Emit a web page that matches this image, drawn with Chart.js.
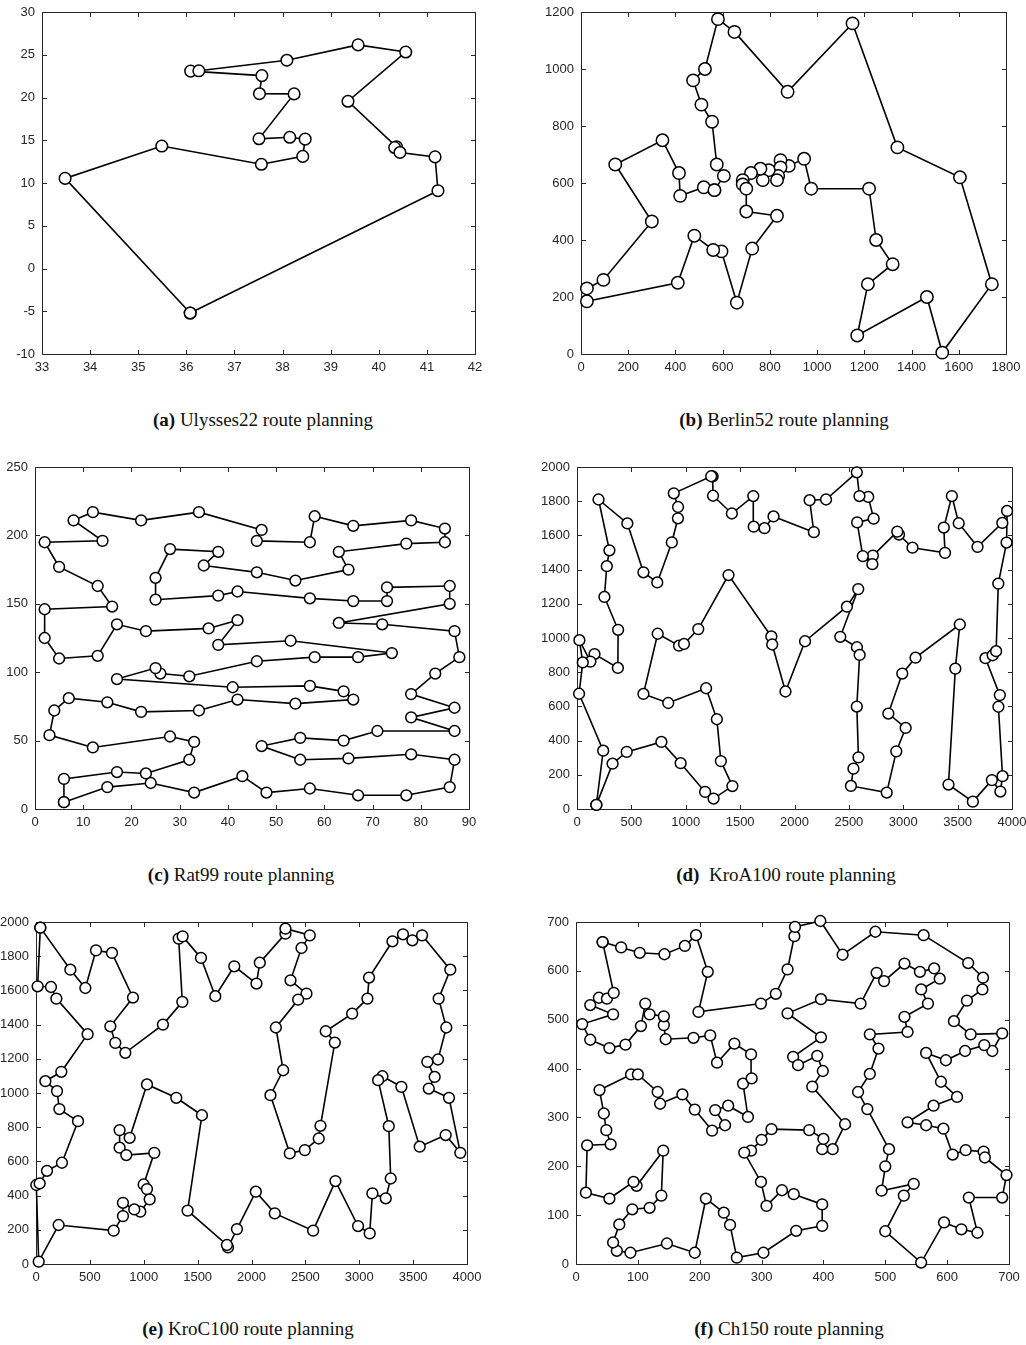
<!DOCTYPE html>
<html>
<head>
<meta charset="utf-8">
<script src="https://cdn.jsdelivr.net/npm/chart.js@4.4.1/dist/chart.umd.min.js"></script>
<style>
  html, body { margin:0; padding:0; background:#fff; width:1026px; height:1345px; overflow:hidden; }
  canvas { position:absolute; }
  .cap { position:absolute; font-family:"Liberation Serif","Times New Roman",serif; font-size:19px; color:#111; white-space:pre; line-height:22px; transform:translateX(-50%); }
  .cap b { font-weight:bold; }
</style>
</head>
<body>
<canvas id="ca" width="490" height="384" style="left:0px;top:0px"></canvas>
<canvas id="cb" width="485" height="384" style="left:536px;top:0px"></canvas>
<canvas id="cc" width="489" height="384" style="left:-5px;top:455px"></canvas>
<canvas id="cd" width="495" height="384" style="left:532px;top:455px"></canvas>
<canvas id="ce" width="486" height="384" style="left:-4px;top:910px"></canvas>
<canvas id="cf" width="493" height="384" style="left:531px;top:910px"></canvas>

<div class="cap" style="left:263px;top:409px"><b>(a)</b> Ulysses22 route planning</div>
<div class="cap" style="left:784px;top:409px"><b>(b)</b> Berlin52 route planning</div>
<div class="cap" style="left:241px;top:864px"><b>(c)</b> Rat99 route planning</div>
<div class="cap" style="left:786px;top:864px"><b>(d)</b>  KroA100 route planning</div>
<div class="cap" style="left:248px;top:1318px"><b>(e)</b> KroC100 route planning</div>
<div class="cap" style="left:789px;top:1318px"><b>(f)</b> Ch150 route planning</div>

<script>
// ---------- (a) Ulysses22, tour order ----------
const ulyssesX = [36.08,33.48,35.49,37.56,38.42,38.47,38.15,37.51,38.24,37.52,37.57,36.09,36.26,38.09,39.57,40.56,39.36,40.37,40.33,40.44,41.17,41.23];
const ulyssesY = [-5.21,10.54,14.32,12.19,13.11,15.13,15.35,15.17,20.42,20.44,22.56,23.09,23.12,24.36,26.15,25.32,19.56,14.23,14.15,13.57,13.05,9.10];
const ulyssesXTicks = [33,34,35,36,37,38,39,40,41,42];
const ulyssesYTicks = [-10,-5,0,5,10,15,20,25,30];

// ---------- (b) Berlin52, tour order ----------
const berlinX = [565,605,575,555,510,475,525,580,650,875,1150,1340,1605,1740,1530,1465,1170,1215,1320,1250,1220,975,945,880,845,845,835,830,795,770,760,720,685,685,700,700,830,725,660,595,560,480,410,25,25,95,300,145,345,415,420,520];
const berlinY = [575,625,665,815,875,960,1000,1175,1130,920,1160,725,620,245,5,200,65,245,315,400,580,580,685,660,680,655,625,610,645,610,650,635,610,595,580,500,485,370,180,360,365,415,250,185,230,260,465,665,750,635,555,585];
const berlinXTicks = [0,200,400,600,800,1000,1200,1400,1600,1800];
const berlinYTicks = [0,200,400,600,800,1000,1200];

// ---------- (c) Rat99, tour order ----------
const ratX = [6,15,24,33,43,48,57,67,77,86,87,78,65,55,47,55,64,71,87,78,87,78,83,88,87,72,63,86,86,73,73,66,57,42,38,25,25,28,38,35,46,54,65,63,77,85,85,78,66,58,57,46,47,34,22,12,8,14,2,5,13,16,2,2,5,13,17,23,36,42,38,53,74,67,58,46,32,26,25,17,41,57,64,66,54,42,34,22,15,7,4,3,12,28,33,32,23,17,6];
const ratY = [5,16,19,12,24,12,15,10,10,16,36,40,37,36,46,52,50,57,57,67,74,84,99,111,130,135,136,150,163,162,152,152,154,159,156,153,169,190,188,178,173,167,175,188,194,195,205,211,207,214,195,196,204,217,211,217,211,196,195,177,163,148,146,125,110,112,135,130,132,138,120,123,114,111,111,108,97,99,103,95,89,90,86,80,77,80,72,71,78,81,72,54,45,53,49,36,26,27,22];
const ratXTicks = [0,10,20,30,40,50,60,70,80,90];
const ratYTicks = [0,50,100,150,200,250];

// ---------- (d) KroA100, tour order ----------
const kroAX = [178,327,457,776,953,1178,1256,1429,1323,1286,1187,839,611,742,938,984,1115,1393,1787,1795,1917,2097,2482,2586,2421,2574,2599,2573,2588,2542,2519,2848,2936,3022,2863,2991,3113,3520,3479,3416,3640,3815,3893,3913,3875,3888,3756,3822,3854,3874,3950,3955,3911,3683,3510,3447,3373,3384,3085,2961,2945,2721,2716,2628,2576,2728,2678,2597,2573,2290,2139,2178,1807,1724,1625,1621,1424,1251,1247,1234,890,929,928,872,738,611,463,198,298,274,252,378,376,161,123,22,53,19,241];
const kroAY = [24,265,334,392,268,100,61,134,280,525,706,620,673,1025,955,965,1052,1368,1009,962,687,981,1183,1286,1007,946,901,599,302,236,135,96,337,474,558,792,885,1079,821,143,43,169,102,192,598,666,882,899,923,1318,1558,1743,1673,1533,1671,1830,1646,1498,1528,1605,1622,1482,1432,1479,1676,1698,1825,1830,1969,1810,1806,1619,1711,1642,1651,1830,1728,1832,1945,1946,1846,1766,1700,1559,1325,1384,1670,1810,1513,1420,1240,1048,825,906,862,987,857,674,341];
const kroXTicks = [0,500,1000,1500,2000,2500,3000,3500,4000];
const kroYTicks = [0,200,400,600,800,1000,1200,1400,1600,1800,2000];

// ---------- (e) KroC100, tour order ----------
const kroCX = [40,319,458,557,705,900,690,736,829,1178,1358,1324,1361,1531,1664,1840,2046,2077,2315,2315,2541,2464,2362,2510,2433,2226,2294,2176,2355,2495,2624,2640,2773,2689,2934,3076,3091,3308,3406,3493,3583,3845,3737,3808,3731,3632,3700,3645,3833,3938,3802,3561,3391,3215,3175,3274,3292,3246,3122,3097,2989,2779,2572,2216,2040,1865,1782,1772,1407,1540,1302,1030,869,776,776,838,1098,999,1030,1055,968,912,807,807,721,210,25,3,34,102,241,390,217,195,87,235,479,189,139,15];
const kroCY = [1967,1721,1614,1834,1819,1558,1390,1293,1235,1400,1533,1903,1916,1790,1566,1741,1640,1762,1932,1961,1922,1848,1659,1581,1546,1383,1133,987,647,666,734,808,1295,1361,1464,1552,1675,1887,1928,1893,1922,1721,1552,1383,1196,1182,1094,1026,972,650,754,686,1036,1098,1075,806,500,384,413,179,222,485,195,296,423,204,97,111,312,870,972,1050,738,783,680,637,650,465,438,378,306,319,358,280,195,228,14,462,471,545,592,835,906,1011,1069,1124,1344,1552,1620,1624];

// ---------- (f) Ch150, tour order ----------
const chX = [43,73,103,143,176,194,213,198,299,323,342,353,354,395,431,484,562,634,658,657,632,611,638,689,673,660,629,598,566,590,616,578,536,566,594,609,630,659,661,696,689,635,649,623,595,558,500,530,546,494,500,506,471,456,475,489,475,536,531,569,558,588,579,556,531,498,486,460,396,342,396,351,359,390,399,382,435,415,398,400,377,316,300,283,272,299,308,333,352,398,398,356,303,260,249,239,210,192,147,88,66,60,70,91,119,138,141,98,93,54,16,18,56,49,45,38,89,100,132,136,172,192,220,241,225,246,278,270,284,283,256,228,217,190,145,142,142,119,112,105,80,54,23,10,60,23,37,50,61];
const chY = [659,648,637,634,651,673,598,516,533,553,603,671,690,702,633,680,673,616,586,562,539,497,470,472,436,448,436,417,432,373,342,324,290,284,277,224,233,230,218,182,136,136,64,71,85,3,67,140,164,150,200,235,317,352,389,441,470,475,506,533,562,584,605,598,615,579,596,533,542,513,464,424,407,426,395,363,286,235,235,256,274,276,254,232,228,168,119,151,143,122,78,68,23,13,80,105,134,23,42,23,27,44,81,112,115,140,232,160,168,134,146,243,245,274,308,356,388,388,352,328,347,316,273,284,315,324,301,369,380,429,451,412,468,463,460,489,507,511,533,487,449,442,459,491,511,530,545,543,555];
const chXTicks = [0,100,200,300,400,500,600,700];
const chYTicks = [0,100,200,300,400,500,600,700];

// ---------- drawing helpers ----------
const AXIS = '#262626';
const TICKFONT = { family: '"Liberation Sans", Arial, Helvetica, sans-serif', size: 13 };

const boxPlugin = {
  id: 'matlabBox',
  beforeDatasetsDraw(chart) {
    const { ctx, chartArea: a, scales } = chart;
    const x = scales.x, y = scales.y;
    ctx.save();
    ctx.strokeStyle = AXIS;
    ctx.lineWidth = 1;
    ctx.beginPath();
    const L = Math.round(a.left) + 0.5, R = Math.round(a.right) + 0.5;
    const T = Math.round(a.top) + 0.5, B = Math.round(a.bottom) + 0.5;
    ctx.rect(L, T, R - L, B - T);
    const tl = 4.5;
    x.ticks.forEach(t => {
      const px = Math.round(x.getPixelForValue(t.value)) + 0.5;
      ctx.moveTo(px, B); ctx.lineTo(px, B - tl);
      ctx.moveTo(px, T); ctx.lineTo(px, T + tl);
    });
    y.ticks.forEach(t => {
      const py = Math.round(y.getPixelForValue(t.value)) + 0.5;
      ctx.moveTo(L, py); ctx.lineTo(L + tl, py);
      ctx.moveTo(R, py); ctx.lineTo(R - tl, py);
    });
    ctx.stroke();
    ctx.restore();
  }
};

function makeChart(id, xs, ys, xTicks, yTicks, yW, padR, rad) {
  const pts = xs.map((v, i) => ({ x: v, y: ys[i] }));
  pts.push({ x: xs[0], y: ys[0] });
  const xMin = xTicks[0], xMax = xTicks[xTicks.length - 1];
  const yMin = yTicks[0], yMax = yTicks[yTicks.length - 1];
  return new Chart(document.getElementById(id), {
    type: 'scatter',
    data: { datasets: [{
      data: pts,
      showLine: true,
      tension: 0,
      borderColor: '#000',
      borderWidth: 1.6,
      pointRadius: rad,
      pointHoverRadius: rad,
      pointBackgroundColor: '#fff',
      pointBorderColor: '#000',
      pointBorderWidth: 1.5,
      clip: false
    }]},
    options: {
      responsive: false,
      animation: false,
      events: [],
      devicePixelRatio: 1,
      layout: { padding: { left: 0, top: 12, right: padR, bottom: 0 } },
      plugins: { legend: { display: false }, tooltip: { enabled: false } },
      scales: {
        x: {
          type: 'linear', min: xMin, max: xMax,
          afterBuildTicks: s => { s.ticks = xTicks.map(v => ({ value: v })); },
          grid: { display: false, drawTicks: false },
          border: { display: false },
          ticks: { font: TICKFONT, color: AXIS, padding: 6, maxRotation: 0, autoSkip: false, callback: v => String(v) },
          afterFit: s => { s.height = 30; s.paddingLeft = 0; s.paddingRight = 0; }
        },
        y: {
          type: 'linear', min: yMin, max: yMax,
          afterBuildTicks: s => { s.ticks = yTicks.map(v => ({ value: v })); },
          grid: { display: false, drawTicks: false },
          border: { display: false },
          ticks: { font: TICKFONT, color: AXIS, padding: 7, autoSkip: false, callback: v => String(v) },
          afterFit: s => { s.width = yW; s.paddingTop = 0; s.paddingBottom = 0; }
        }
      }
    },
    plugins: [boxPlugin]
  });
}

makeChart('ca', ulyssesX, ulyssesY, ulyssesXTicks, ulyssesYTicks, 42, 15, 5.8);
makeChart('cb', berlinX, berlinY, berlinXTicks, berlinYTicks, 45, 15, 6.2);
makeChart('cc', ratX, ratY, ratXTicks, ratYTicks, 40, 15, 5.4);
makeChart('cd', kroAX, kroAY, kroXTicks, kroYTicks, 45, 15, 5.4);
makeChart('ce', kroCX, kroCY, kroXTicks, kroYTicks, 40, 15, 5.4);
makeChart('cf', chX, chY, chXTicks, chYTicks, 45, 15, 5.4);
</script>
</body>
</html>
